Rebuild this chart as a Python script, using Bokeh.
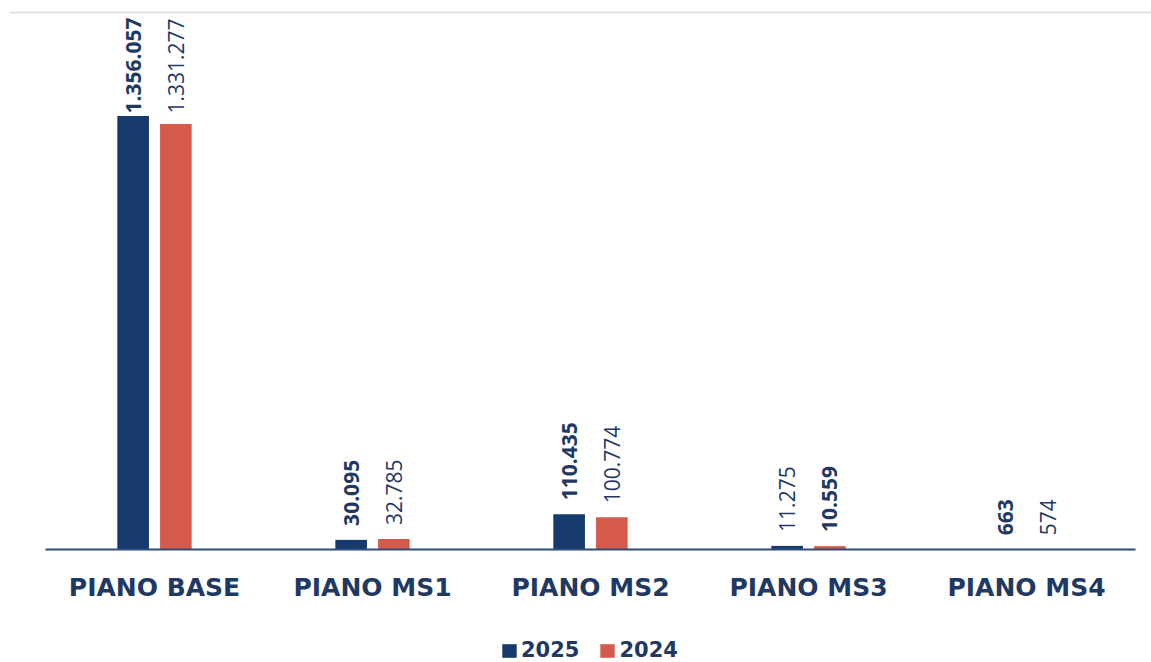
import numpy as np
from bokeh.plotting import figure
from bokeh.models import ColumnDataSource, Range1d, Span, Legend, LegendItem
from bokeh.core.properties import value
from bokeh.embed import file_html
from bokeh.resources import INLINE

# ---- data -------------------------------------------------------------
categories = ["PIANO BASE", "PIANO MS1", "PIANO MS2", "PIANO MS3", "PIANO MS4"]
series = ["2025", "2024"]
values_2025 = [1356057, 30095, 110435, 11275, 663]
values_2024 = [1331277, 32785, 100774, 10559, 574]

# ---- styling ----------------------------------------------------------
NAVY = "#163A6B"
RED = "#D65A4C"
TEXT = "#1F3864"
AXIS = "#2E4D7B"
bold_2025 = [True, True, True, False, True]
bold_2024 = [False, False, False, True, False]

W, H = 1151, 662
BORDER_L, BORDER_T = 9, 5
PX_PER_CAT = 218.0          # width of one category slot
CAT_LEFT_PX = 36.0          # slot start, measured from the frame's left edge
FRAME_W = W - BORDER_L
FRAME_H = H - BORDER_T

Y_MAX = 1_680_000           # value at the thin grey rule along the top
TOP_RULE_PX = 7             # rule distance below the frame top
BASE_PX = 113               # baseline distance above the frame bottom
k = (FRAME_H - TOP_RULE_PX - BASE_PX) / Y_MAX   # px per unit

x_start = -CAT_LEFT_PX / PX_PER_CAT
x_end = x_start + FRAME_W / PX_PER_CAT
y_start = -BASE_PX / k
y_end = Y_MAX + TOP_RULE_PX / k

BAR_W = 0.145
OFFSET = 0.098
LABEL_GAP = 14 / k                       # space between bar top and its label
LABEL_CEIL = 436 / k                     # highest start so labels stay inside
CAT_LABEL_Y = -23 / k                    # category names below the baseline


def fmt(v):
    return f"{v:,}".replace(",", ".")


centers = np.arange(len(categories)) + 0.5

p = figure(width=W, height=H, output_backend="svg", toolbar_location=None,
           x_range=Range1d(x_start, x_end), y_range=Range1d(y_start, y_end),
           x_axis_location=None, y_axis_location=None,
           min_border_left=BORDER_L, min_border_right=0,
           min_border_top=BORDER_T, min_border_bottom=0)
p.outline_line_color = None
p.grid.visible = False
p.background_fill_color = "white"
p.border_fill_color = "white"

p.add_layout(Span(location=Y_MAX, dimension="width",
                  line_color="#D9D9D9", line_width=1.5))

renderers = []
for vals, bolds, off, color in ((values_2025, bold_2025, -OFFSET, NAVY),
                                (values_2024, bold_2024, OFFSET, RED)):
    vals = np.array(vals, dtype=float)
    src = ColumnDataSource(dict(
        x=centers + off,
        top=vals,
        ly=np.minimum(vals + LABEL_GAP, LABEL_CEIL),
        label=[fmt(int(v)) for v in vals],
        style=["bold" if b else "normal" for b in bolds],
    ))
    r = p.vbar(x="x", top="top", bottom=0, width=BAR_W, source=src,
               fill_color=color, line_color=None)
    renderers.append(r)
    p.text(x="x", y="ly", text="label", source=src, angle=np.pi / 2,
           text_align="left", text_baseline="middle",
           text_font=value("Open Sans"), text_font_size="21px",
           text_font_style="style", text_color=TEXT)

# baseline spanning the category slots
p.segment(x0=[0], y0=[0], x1=[len(categories)], y1=[0],
          line_color=AXIS, line_width=2)

# category names under each group
cat_src = ColumnDataSource(dict(x=centers, y=[CAT_LABEL_Y] * len(categories),
                                name=categories))
p.text(x="x", y="y", text="name", source=cat_src,
       text_align="center", text_baseline="top",
       text_font=value("DejaVu Sans"), text_font_style="bold",
       text_font_size="25px", text_color=TEXT)

legend = Legend(items=[LegendItem(label=s, renderers=[r])
                       for s, r in zip(series, renderers)],
                orientation="horizontal", location=(491, 0),
                glyph_width=18, glyph_height=17, label_standoff=3,
                spacing=19, padding=0, margin=0,
                background_fill_alpha=0, border_line_color=None,
                label_text_font="DejaVu Sans", label_text_font_style="bold",
                label_text_font_size="21px", label_text_color=TEXT)
p.add_layout(legend)

open("out.html", "w").write(file_html(p, INLINE))
